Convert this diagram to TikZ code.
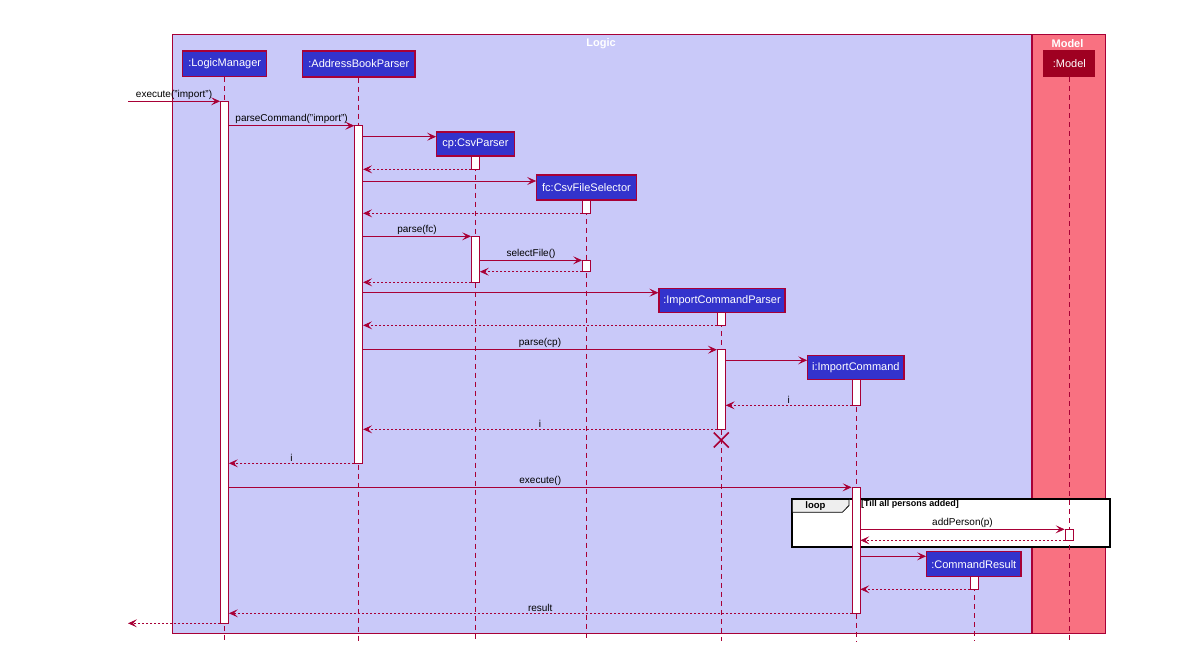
\documentclass[tikz,border=0pt]{standalone}
\usepackage{fontspec}
\setmainfont{Liberation Sans}
\usetikzlibrary{arrows.meta}
\definecolor{crim}{HTML}{A80036}
\definecolor{logicbg}{HTML}{C9C9F9}
\definecolor{partbg}{HTML}{3333CC}
\definecolor{modelbg}{HTML}{F97181}
\definecolor{modelpart}{HTML}{9F0021}
\definecolor{tabgrey}{HTML}{EEEEEE}
\tikzset{
  frameb/.style={draw=crim, line width=0.9pt},
  part/.style={draw=crim, fill=partbg, line width=1.1pt, text=white, inner sep=0pt,
    font=\fontsize{11}{13}\selectfont},
  life/.style={draw=crim, line width=0.8pt, dash pattern=on 5pt off 4pt},
  act/.style={draw=crim, fill=white, line width=0.8pt, inner sep=0pt, minimum width=8pt},
  tip/.style={-{Stealth[length=9pt,width=8pt,inset=4pt]}},
  msg/.style={draw=crim, line width=0.7pt, tip},
  ret/.style={draw=crim, line width=0.7pt, tip, dash pattern=on 2pt off 2pt},
  lbl/.style={above, inner sep=1.5pt, text=black, font=\fontsize{10}{12}\selectfont},
  ftitle/.style={text=white, font=\bfseries\fontsize{11}{13}\selectfont, inner sep=0pt}
}
\begin{document}
\begin{tikzpicture}[x=1pt,y=-1pt]
\useasboundingbox (0,0) rectangle (1182,645);
% frames
\draw[frameb, fill=logicbg] (172.3,34) rectangle (1031.3,633.3);
\draw[frameb, fill=modelbg] (1032.8,34) rectangle (1105.5,633.3);
\node[ftitle] (tlogic) at (601,43.3) {Logic};
\node[ftitle] (tmodel) at (1067.5,43.3) {Model};
% loop fragment
\draw[black, fill=white, line width=1.8pt] (792.3,498.7) rectangle (1110,547);
\draw[black, line width=0.8pt, fill=tabgrey] (792.3,498.7) -- (849,498.7) -- (849,505.5) -- (842.3,512.3) -- (792.3,512.3) -- cycle;
\draw[black, line width=1.8pt] (792.3,498.7) -- (849,498.7);
\node[font=\bfseries\fontsize{9.5}{11}\selectfont, inner sep=0pt] (looplbl) at (815.5,505.8) {loop};
% participants
\node[part, minimum width=84pt, minimum height=25.7pt] (lm) at (224.7,63.8) {:LogicManager};
\node[part, minimum width=112.3pt, minimum height=26pt] (abp) at (358.8,64) {:AddressBookParser};
\node[part, minimum width=77.6pt, minimum height=24pt] (cp) at (475.5,144) {cp:CsvParser};
\node[part, minimum width=99.6pt, minimum height=25pt] (fc) at (586.5,187.5) {fc:CsvFileSelector};
\node[part, minimum width=126pt, minimum height=24.3pt] (icp) at (722,300.2) {:ImportCommandParser};
\node[part, minimum width=96.3pt, minimum height=24pt] (ic) at (855.8,367.3) {i:ImportCommand};
\node[part, minimum width=94.3pt, minimum height=25pt] (cr) at (973.8,564.2) {:CommandResult};
\node[part, fill=modelpart, draw=modelpart, minimum width=50.7pt, minimum height=26pt] (mdl) at (1069.3,63.7) {:Model};
% lifeline ends
\coordinate (lmE) at (224.5,641);
\coordinate (abpE) at (358.5,641);
\coordinate (cpE) at (475.5,641);
\coordinate (fcE) at (586.5,641);
\coordinate (icpE) at (721.3,641);
\coordinate (icE) at (856,641);
\coordinate (crE) at (974,641);
\coordinate (mdlE) at (1069.3,641);
\draw[life] (lm.south -| lmE) -- (lmE);
\draw[life] (abp.south -| abpE) -- (abpE);
\draw[life] (cp.south -| cpE) -- (cpE);
\draw[life] (fc.south -| fcE) -- (fcE);
\draw[life] (icp.south -| icpE) -- (icpE);
\draw[life] (ic.south -| icE) -- (icE);
\draw[life] (cr.south -| crE) -- (crE);
\draw[life] (mdl.south -| mdlE) -- (mdlE);
% redraw participant boxes on top of lifelines
\node[part, minimum width=84pt, minimum height=25.7pt] at (lm) {:LogicManager};
\node[part, minimum width=112.3pt, minimum height=26pt] at (abp) {:AddressBookParser};
\node[part, minimum width=77.6pt, minimum height=24pt] at (cp) {cp:CsvParser};
\node[part, minimum width=99.6pt, minimum height=25pt] at (fc) {fc:CsvFileSelector};
\node[part, minimum width=126pt, minimum height=24.3pt] at (icp) {:ImportCommandParser};
\node[part, minimum width=96.3pt, minimum height=24pt] at (ic) {i:ImportCommand};
\node[part, minimum width=94.3pt, minimum height=25pt] at (cr) {:CommandResult};
\node[part, fill=modelpart, draw=modelpart, minimum width=50.7pt, minimum height=26pt] at (mdl) {:Model};
% activation bars
\node[act, minimum height=522pt] (lmA) at (224.5,362.3) {};
\node[act, minimum height=337.6pt] (abpA) at (358.7,294.5) {};
\node[act, minimum height=13.3pt] (cpA) at (475.5,162.7) {};
\node[act, minimum height=46pt] (cpB) at (475.5,259.3) {};
\node[act, minimum height=13.3pt] (fcA) at (586.5,206.7) {};
\node[act, minimum height=11.4pt] (fcB) at (586.5,266) {};
\node[act, minimum height=13pt] (icpA) at (721.3,318.8) {};
\node[act, minimum height=79.6pt] (icpB) at (721.3,389.5) {};
\node[act, minimum height=26pt] (icA) at (856,392.3) {};
\node[act, minimum height=126pt] (icB) at (856,550.3) {};
\node[act, minimum height=11pt] (mA) at (1069,534.8) {};
\node[act, minimum height=12.6pt] (crA) at (974,583) {};
% loop guard
\node[font=\bfseries\fontsize{9}{10}\selectfont, inner sep=0pt, anchor=west] (guard) at (860.8,504.5) {[Till all persons added]};
% destroy
\coordinate (dx) at (721.3,440);
\draw[crim, line width=1.6pt] ([shift={(-7.5,-7.5)}]dx) -- ([shift={(7.5,7.5)}]dx)
  ([shift={(-7.5,7.5)}]dx) -- ([shift={(7.5,-7.5)}]dx);
% messages
\coordinate (inL) at (128,101.3);
\coordinate (outL) at (128,623.3);
\draw[msg] (inL) -- node[lbl]{execute("import")} (lmA.west |- 0,101.3);
\draw[msg] (lmA.east |- 0,125.7) -- node[lbl]{parseCommand("import")} (abpA.west |- 0,125.7);
\draw[msg] (abpA.east |- 0,136.7) -- (cp.west |- 0,136.7);
\draw[ret] (cpA.west |- 0,169.3) -- (abpA.east |- 0,169.3);
\draw[msg] (abpA.east |- 0,181) -- (fc.west |- 0,181);
\draw[ret] (fcA.west |- 0,213.3) -- (abpA.east |- 0,213.3);
\draw[msg] (abpA.east |- 0,236.3) -- node[lbl]{parse(fc)} (cpB.west |- 0,236.3);
\draw[msg] (cpB.east |- 0,260.3) -- node[lbl]{selectFile()} (fcB.west |- 0,260.3);
\draw[ret] (fcB.west |- 0,271.7) -- (cpB.east |- 0,271.7);
\draw[ret] (cpB.west |- 0,282.3) -- (abpA.east |- 0,282.3);
\draw[msg] (abpA.east |- 0,292.7) -- (icp.west |- 0,292.7);
\draw[ret] (icpA.west |- 0,325.3) -- (abpA.east |- 0,325.3);
\draw[msg] (abpA.east |- 0,349.7) -- node[lbl]{parse(cp)} (icpB.west |- 0,349.7);
\draw[msg] (icpB.east |- 0,360.3) -- (ic.west |- 0,360.3);
\draw[ret] (icA.west |- 0,405.3) -- node[lbl]{i} (icpB.east |- 0,405.3);
\draw[ret] (icpB.west |- 0,429.3) -- node[lbl]{i} (abpA.east |- 0,429.3);
\draw[ret] (abpA.west |- 0,463.3) -- node[lbl]{i} (lmA.east |- 0,463.3);
\draw[msg] (lmA.east |- 0,487.3) -- node[lbl]{execute()} (icB.west |- 0,487.3);
\draw[msg] (icB.east |- 0,529.3) -- node[lbl]{addPerson(p)} (mA.west |- 0,529.3);
\draw[ret] (mA.west |- 0,540.3) -- (icB.east |- 0,540.3);
\draw[msg] (icB.east |- 0,556.3) -- (cr.west |- 0,556.3);
\draw[ret] (crA.west |- 0,589.3) -- (icB.east |- 0,589.3);
\draw[ret] (icB.west |- 0,613.3) -- node[lbl]{result} (lmA.east |- 0,613.3);
\draw[ret] (lmA.west |- 0,623.3) -- (outL);
\end{tikzpicture}
\end{document}
